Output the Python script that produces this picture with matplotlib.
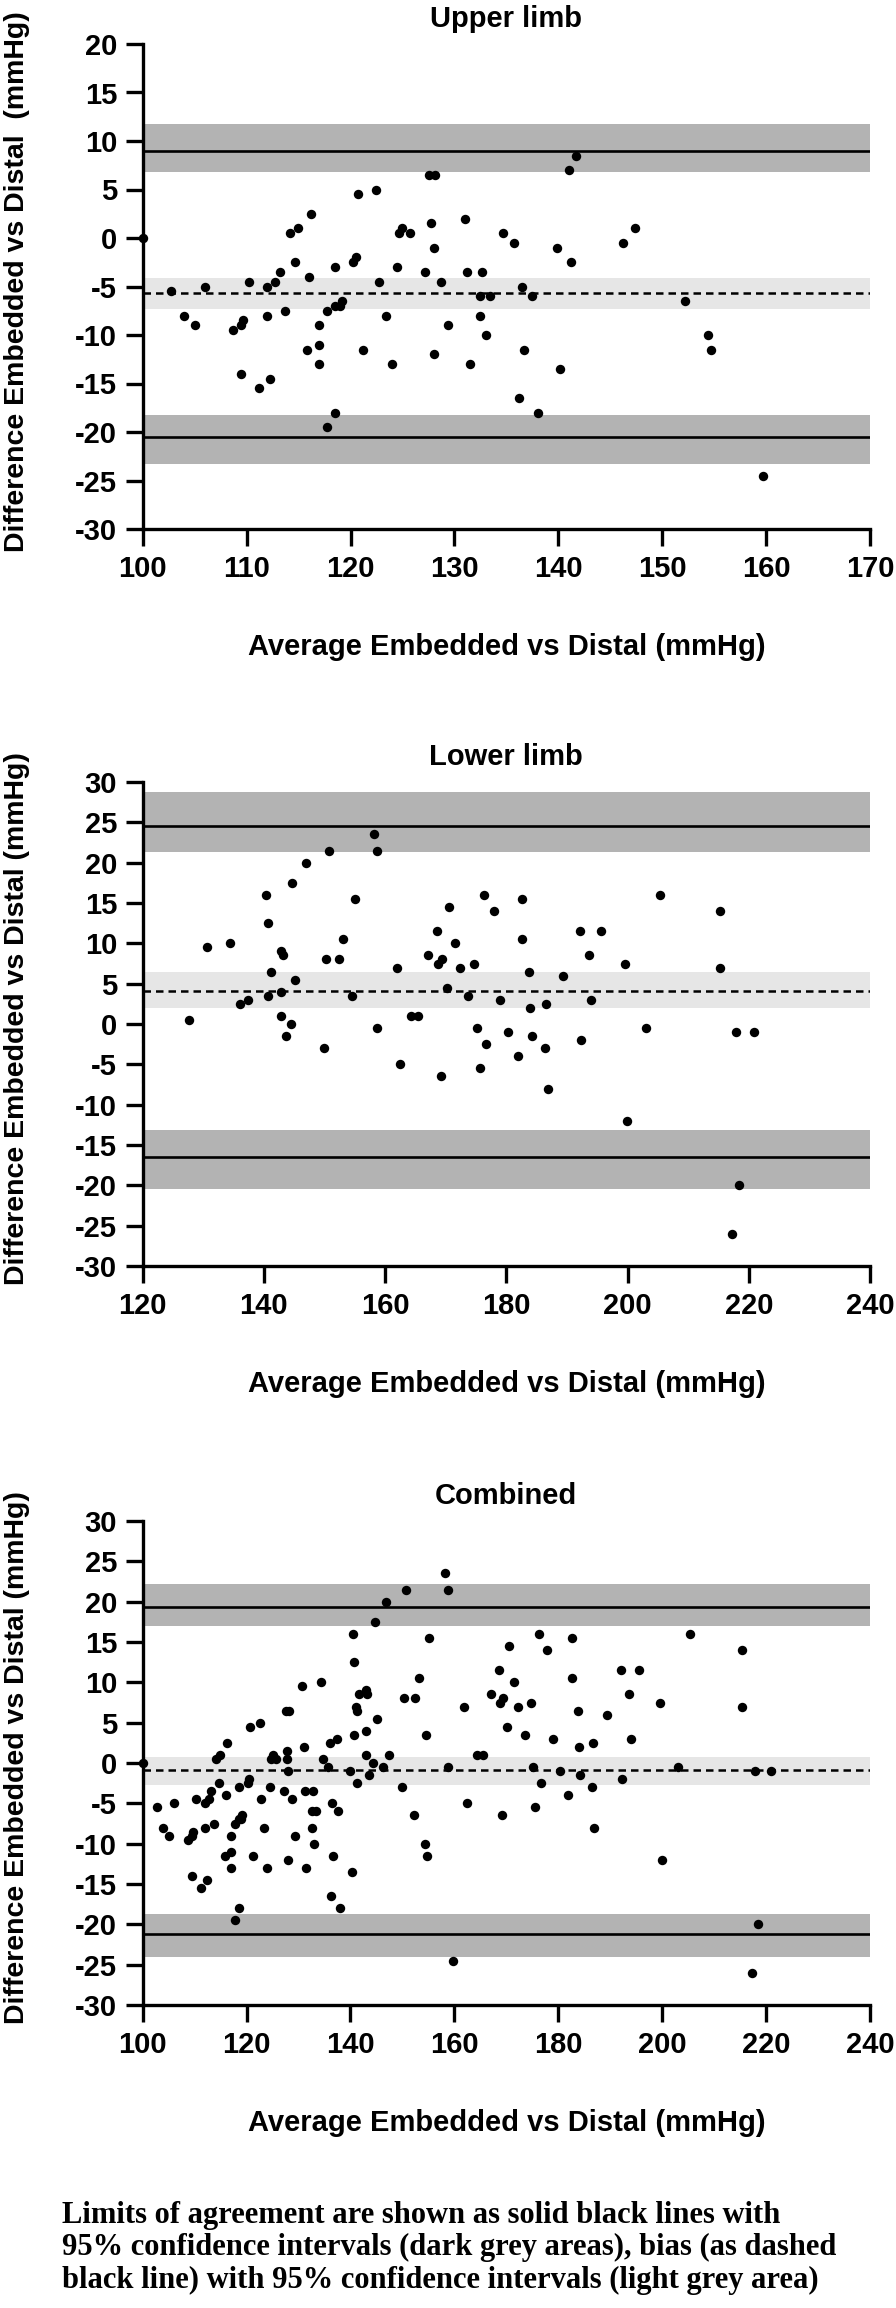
import numpy as np
import matplotlib
matplotlib.use("Agg")
import matplotlib.pyplot as plt

plt.rcParams["font.family"] = ["Liberation Sans", "DejaVu Sans"]
plt.rcParams["font.weight"] = "bold"
plt.rcParams["axes.unicode_minus"] = False

# upper limb: average vs difference (mmHg)
upper_avg = [100.0, 102.7, 104.0, 105.0, 106.0, 108.7, 109.5, 109.7, 109.5, 110.2,
             111.2, 112.0, 112.0, 112.3, 112.7, 113.2, 113.7, 114.2, 114.7, 114.9,
             115.8, 116.0, 116.2, 117.0, 117.0, 117.0, 117.7, 117.7, 118.5, 118.5,
             118.5, 119.0, 119.2, 120.2, 120.5, 120.7, 121.2, 122.5, 122.7, 123.4,
             124.0, 124.5, 124.7, 125.0, 125.7, 127.2, 127.7, 127.6, 128.1, 128.0,
             128.0, 128.7, 129.4, 131.0, 131.2, 131.5, 132.5, 132.5, 132.7, 133.0,
             133.4, 134.7, 135.7, 136.2, 136.5, 136.7, 137.5, 138.0, 139.9, 140.2,
             141.0, 141.2, 141.7, 146.2, 147.4, 152.2, 154.4, 154.7, 159.7]
upper_diff = [0.0, -5.5, -8.0, -9.0, -5.0, -9.5, -9.0, -8.5, -14.0, -4.5,
              -15.5, -5.0, -8.0, -14.5, -4.5, -3.5, -7.5, 0.5, -2.5, 1.0,
              -11.5, -4.0, 2.5, -9.0, -11.0, -13.0, -7.5, -19.5, -3.0, -18.0,
              -7.0, -7.0, -6.5, -2.5, -2.0, 4.5, -11.5, 5.0, -4.5, -8.0,
              -13.0, -3.0, 0.5, 1.0, 0.5, -3.5, 1.5, 6.5, 6.5, -1.0,
              -12.0, -4.5, -9.0, 2.0, -3.5, -13.0, -8.0, -6.0, -3.5, -10.0,
              -6.0, 0.5, -0.5, -16.5, -5.0, -11.5, -6.0, -18.0, -1.0, -13.5,
              7.0, -2.5, 8.5, -0.5, 1.0, -6.5, -10.0, -11.5, -24.5]

# lower limb
lower_avg = [127.7, 130.6, 134.4, 136.1, 137.4, 140.4, 140.6, 140.6, 141.2, 142.9,
             143.1, 142.9, 142.9, 143.6, 144.4, 144.7, 145.1, 146.9, 149.9, 150.3,
             150.7, 152.4, 153.1, 154.6, 155.1, 158.1, 158.7, 158.7, 161.9, 162.4,
             164.3, 165.5, 167.1, 168.6, 168.7, 169.2, 169.4, 170.2, 170.6, 171.5,
             172.3, 173.6, 174.7, 175.1, 175.6, 176.3, 176.7, 177.9, 178.9, 180.3,
             181.9, 182.6, 182.6, 183.7, 183.9, 184.2, 186.4, 186.6, 186.9, 189.4,
             192.1, 192.3, 193.6, 193.9, 195.6, 199.6, 199.9, 203.1, 205.4, 215.3,
             215.3, 217.3, 217.9, 218.4, 220.9]
lower_diff = [0.5, 9.5, 10.0, 2.5, 3.0, 16.0, 12.5, 3.5, 6.5, 9.0,
              8.5, 4.0, 1.0, -1.5, 0.0, 17.5, 5.5, 20.0, -3.0, 8.0,
              21.5, 8.0, 10.5, 3.5, 15.5, 23.5, 21.5, -0.5, 7.0, -5.0,
              1.0, 1.0, 8.5, 11.5, 7.5, -6.5, 8.0, 4.5, 14.5, 10.0,
              7.0, 3.5, 7.5, -0.5, -5.5, 16.0, -2.5, 14.0, 3.0, -1.0,
              -4.0, 15.5, 10.5, 6.5, 2.0, -1.5, -3.0, 2.5, -8.0, 6.0,
              11.5, -2.0, 8.5, 3.0, 11.5, 7.5, -12.0, -0.5, 16.0, 14.0,
              7.0, -26.0, -1.0, -20.0, -1.0]

# bias / limits of agreement with 95% CI  (low, line, high)
upper_loa_hi = [6.8, 9.0, 11.8]
upper_bias = [-7.3, -5.7, -4.1]
upper_loa_lo = [-23.3, -20.5, -18.2]

lower_loa_hi = [21.3, 24.6, 28.7]
lower_bias = [2.0, 4.1, 6.5]
lower_loa_lo = [-20.5, -16.5, -13.1]

comb_loa_hi = [17.0, 19.4, 22.2]
comb_bias = [-2.7, -0.9, 0.8]
comb_loa_lo = [-24.0, -21.2, -18.7]

dark = "#b3b3b3"
light = "#e6e6e6"

fig = plt.figure(figsize=(8.96, 23.08), dpi=100)

W = 896.0
H = 2308.0
left = 142.7 / W
width = (870.0 - 142.7) / W

panels = [
    ("Upper limb", upper_avg, upper_diff, upper_loa_hi, upper_bias, upper_loa_lo,
     (100, 170), np.arange(100, 171, 10), (-30, 20), 44, 529, "Difference Embedded vs Distal  (mmHg)"),
    ("Lower limb", lower_avg, lower_diff, lower_loa_hi, lower_bias, lower_loa_lo,
     (120, 240), np.arange(120, 241, 20), (-30, 30), 782, 1266, "Difference Embedded vs Distal (mmHg)"),
    ("Combined", upper_avg + lower_avg, upper_diff + lower_diff, comb_loa_hi, comb_bias, comb_loa_lo,
     (100, 240), np.arange(100, 241, 20), (-30, 30), 1521, 2005, "Difference Embedded vs Distal (mmHg)"),
]

for title, xs, ys, hi, bias, lo, xlim, xticks, ylim, top, bot, ylab in panels:
    ax = fig.add_axes([left, 1 - bot / H, width, (bot - top) / H])

    ax.axhspan(hi[0], hi[2], color=dark, lw=0, zorder=1)
    ax.axhspan(lo[0], lo[2], color=dark, lw=0, zorder=1)
    ax.axhspan(bias[0], bias[2], color=light, lw=0, zorder=1)
    ax.axhline(hi[1], color="black", lw=1.9, zorder=2)
    ax.axhline(lo[1], color="black", lw=1.9, zorder=2)
    ax.axhline(bias[1], color="black", lw=1.8, ls=(0, (3, 2)), zorder=2)

    ax.scatter(xs, ys, s=46, color="black", lw=0, zorder=3, clip_on=False)

    ax.set_xlim(xlim)
    ax.set_ylim(ylim)
    ax.set_xticks(xticks)
    ax.set_yticks(np.arange(ylim[0], ylim[1] + 1, 5))

    for s in ["top", "right"]:
        ax.spines[s].set_visible(False)
    for s in ["left", "bottom"]:
        ax.spines[s].set_linewidth(2.4)
        ax.spines[s].set_zorder(4)
    ax.tick_params(width=2.4, length=12.5, labelsize=21, pad=6)

    ax.set_title(title, fontsize=21, fontweight="bold", pad=12)
    ax.set_xlabel("Average Embedded vs Distal (mmHg)", fontsize=21, fontweight="bold", labelpad=36)
    ax.text((17 - 142.7) / (870 - 142.7), 0.5 + 5.0 / (bot - top), ylab, transform=ax.transAxes,
            rotation=90, ha="center", va="center", fontsize=20.5, fontweight="bold")

caption = ["Limits of agreement are shown as solid black lines with",
           "95% confidence intervals (dark grey areas), bias (as dashed",
           "black line) with 95% confidence intervals (light grey area)"]
for i, line in enumerate(caption):
    fig.text(62 / W, 1 - (2223 + 32.5 * i) / H, line, ha="left", va="baseline",
             fontsize=22, fontweight="bold", family=["Liberation Serif", "DejaVu Serif"])

fig.savefig("out.png", dpi=100)
